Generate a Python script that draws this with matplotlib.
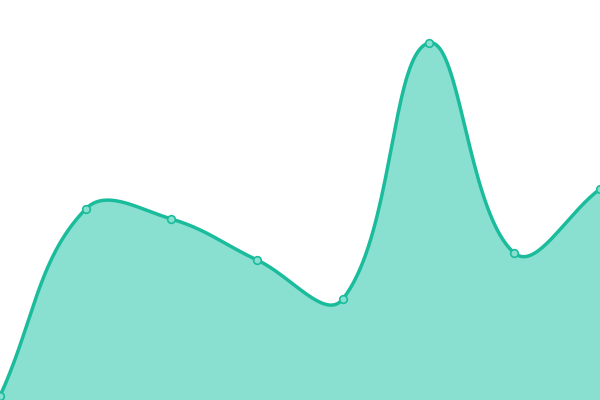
import numpy as np
import matplotlib
matplotlib.use('Agg')
import matplotlib.pyplot as plt

# values (height from the bottom edge, 0..400)
labels = ['p0', 'p1', 'p2', 'p3', 'p4', 'p5', 'p6', 'p7']
values = [4, 191, 181, 140, 101, 357, 147, 211]

W, H = 600, 400
line_color = '#1abc9c'
fill_color = '#8ae0d0'


def spline_path(xs, ys, tension=0.4, steps=40):
    # bezier curve through the points, control points like Chart.js
    n = len(xs)
    cps = []
    for i in range(n):
        p = np.array([xs[i], ys[i]])
        prev = np.array([xs[max(i - 1, 0)], ys[max(i - 1, 0)]])
        nxt = np.array([xs[min(i + 1, n - 1)], ys[min(i + 1, n - 1)]])
        d01 = np.hypot(*(p - prev))
        d12 = np.hypot(*(nxt - p))
        tot = d01 + d12
        s01 = d01 / tot if tot else 0
        s12 = d12 / tot if tot else 0
        c_prev = p - tension * s01 * (nxt - prev)
        c_next = p + tension * s12 * (nxt - prev)
        c_prev[1] = np.clip(c_prev[1], 0, H)
        c_next[1] = np.clip(c_next[1], 0, H)
        cps.append((c_prev, c_next))
    out_x, out_y = [], []
    t = np.linspace(0, 1, steps)
    for i in range(n - 1):
        p0 = np.array([xs[i], ys[i]])
        p3 = np.array([xs[i + 1], ys[i + 1]])
        p1 = cps[i][1]
        p2 = cps[i + 1][0]
        seg = ((1 - t) ** 3)[:, None] * p0 + (3 * (1 - t) ** 2 * t)[:, None] * p1 \
            + (3 * (1 - t) * t ** 2)[:, None] * p2 + (t ** 3)[:, None] * p3
        out_x.extend(seg[:, 0])
        out_y.extend(seg[:, 1])
    return np.array(out_x), np.array(out_y)


xs = np.arange(len(values)) * W / (len(values) - 1)
ys = np.array(values, dtype=float)
cx, cy = spline_path(xs, ys)

fig = plt.figure(figsize=(6, 4), dpi=100)
ax = fig.add_axes([0, 0, 1, 1])
ax.fill_between(cx, cy, 0, color=fill_color, lw=0)
ax.plot(cx, cy, color=line_color, lw=2.5, solid_capstyle='round')
ax.plot(xs, ys, 'o', ms=5.5, mfc='#8ae0d0', mec=line_color, mew=1.2, clip_on=False)
ax.set_xlim(0, W)
ax.set_ylim(0, H)
ax.axis('off')
fig.savefig('out.png', dpi=100)
